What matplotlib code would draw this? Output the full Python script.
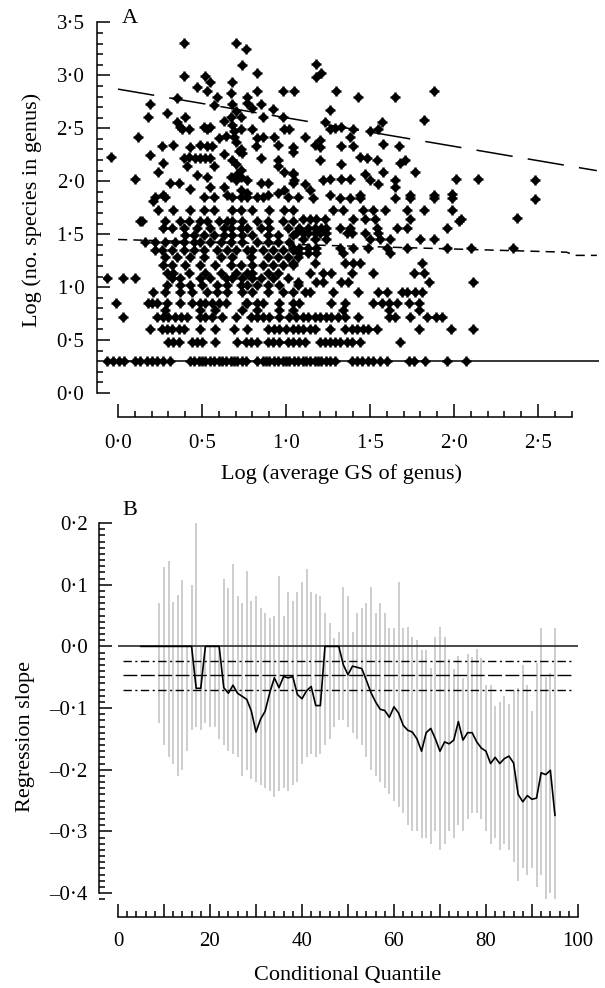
import matplotlib
matplotlib.use("Agg")
import matplotlib.pyplot as plt
from matplotlib.ticker import MultipleLocator, FixedLocator, FuncFormatter

plt.rcParams['font.family'] = ['Liberation Serif', 'DejaVu Serif']
plt.rcParams['font.size'] = 15

# ---- panel A: log genome size (x) vs log no. species (y), one genus per point
# rows of genera with few species (log10 of 2, 3, 4, 5, 6, 7, 9 species)
row_y = [0.30, 0.48, 0.60, 0.72, 0.78, 0.85, 0.95]
gs_n2 = [-0.065, -0.03, 0.005, 0.035, 0.10, 0.13, 0.17, 0.20, 0.23, 0.27, 0.31, 0.43, 0.45,
         0.48, 0.50, 0.52, 0.55, 0.57, 0.60, 0.62, 0.64, 0.67, 0.69, 0.71, 0.74, 0.76, 0.83,
         0.86, 0.88, 0.90, 0.93, 0.95, 0.98, 1.00, 1.02, 1.05, 1.07, 1.10, 1.12, 1.14, 1.17,
         1.19, 1.21, 1.24, 1.26, 1.29, 1.39, 1.42, 1.45, 1.49, 1.52, 1.56, 1.60, 1.73, 1.76,
         1.83, 1.96, 2.07]
gs_n3 = [0.30, 0.33, 0.36, 0.44, 0.47, 0.50, 0.58, 0.71, 0.76, 0.79, 0.83, 0.89, 0.92, 0.96,
         1.01, 1.04, 1.08, 1.11, 1.20, 1.23, 1.26, 1.29, 1.32, 1.36, 1.39, 1.44, 1.68]
gs_n4 = [0.19, 0.26, 0.29, 0.32, 0.36, 0.39, 0.49, 0.58, 0.69, 0.77, 0.89, 0.93, 0.96, 1.00,
         1.04, 1.07, 1.10, 1.14, 1.17, 1.26, 1.35, 1.39, 1.42, 1.46, 1.49, 1.54, 1.79, 1.98, 2.11]
gs_n5 = [0.03, 0.23, 0.27, 0.30, 0.34, 0.375, 0.41, 0.49, 0.52, 0.56, 0.62, 0.70, 0.79, 0.83,
         0.86, 0.90, 0.96, 1.02, 1.06, 1.10, 1.13, 1.17, 1.20, 1.24, 1.27, 1.31, 1.35, 1.43,
         1.61, 1.65, 1.74, 1.84, 1.89, 1.93]
gs_n6 = [0.28, 0.49, 0.58, 0.74, 0.83, 0.96, 1.04, 1.34, 1.61, 1.79]
gs_n7 = [-0.01, 0.18, 0.20, 0.23, 0.29, 0.37, 0.44, 0.49, 0.52, 0.56, 0.60, 0.64, 0.76, 0.77,
         0.83, 0.86, 0.96, 1.04, 1.08, 1.27, 1.35, 1.52, 1.57, 1.61, 1.66, 1.73, 1.79]
gs_n9 = [0.21, 0.28, 0.37, 0.44, 0.53, 0.59, 0.65, 0.74, 0.80, 0.89, 0.98, 1.04, 1.11, 1.14,
         1.28, 1.43, 1.55, 1.60, 1.69, 1.72, 1.77, 1.81]

# genera with more species: (log GS, log no. species)
upper_pts = [
    (-0.065, 1.09), (0.03, 1.09), (0.10, 1.09), (0.32, 1.09), (0.37, 1.09), (0.49, 1.09),
    (0.55, 1.09), (0.64, 1.09), (0.68, 1.09), (0.74, 1.09), (0.80, 1.09), (0.85, 1.09),
    (0.92, 1.09), (1.01, 1.09),
    (0.29, 1.02), (0.37, 1.02), (0.43, 1.02), (0.50, 1.02), (0.59, 1.02), (0.65, 1.02),
    (0.73, 1.02), (0.77, 1.02), (0.83, 1.02), (0.89, 1.02), (0.96, 1.02), (1.07, 1.02),
    (0.29, 1.13), (0.33, 1.13), (0.42, 1.13), (0.52, 1.13), (0.61, 1.13), (0.70, 1.13),
    (0.77, 1.13), (0.80, 1.13), (0.89, 1.13), (0.95, 1.13),
    (0.27, 1.21), (0.32, 1.21), (0.40, 1.21), (0.49, 1.21), (0.58, 1.21), (0.67, 1.21),
    (0.73, 1.21), (0.80, 1.21), (0.86, 1.21), (0.92, 1.21), (0.98, 1.21), (1.04, 1.21),
    (0.28, 1.28), (0.35, 1.28), (0.43, 1.28), (0.51, 1.28), (0.61, 1.28), (0.68, 1.28),
    (0.79, 1.28), (0.89, 1.28), (0.95, 1.28), (1.01, 1.28), (1.07, 1.28),
    (0.22, 1.35), (0.26, 1.35), (0.32, 1.35), (0.39, 1.35), (0.45, 1.35), (0.51, 1.35),
    (0.59, 1.35), (0.65, 1.35), (0.70, 1.35), (0.77, 1.35), (0.80, 1.35), (0.86, 1.35),
    (0.92, 1.35), (0.98, 1.35), (1.04, 1.35),
    (0.16, 1.43), (0.22, 1.43), (0.28, 1.43), (0.34, 1.43), (0.39, 1.43), (0.45, 1.43),
    (0.49, 1.43), (0.55, 1.43), (0.61, 1.43), (0.67, 1.43), (0.74, 1.43), (0.83, 1.43),
    (0.89, 1.43), (0.95, 1.43), (1.02, 1.43),
    (0.40, 1.49), (0.45, 1.49), (0.51, 1.49), (0.57, 1.49), (0.63, 1.49), (0.68, 1.49),
    (0.74, 1.49), (0.80, 1.49), (0.89, 1.49), (0.95, 1.49), (1.04, 1.49),
    (0.27, 1.56), (0.32, 1.56), (0.39, 1.56), (0.47, 1.56), (0.55, 1.56), (0.63, 1.56),
    (0.67, 1.56), (0.73, 1.56), (0.77, 1.56), (0.85, 1.56), (0.90, 1.56), (1.01, 1.56),
    (0.14, 1.62), (0.28, 1.62), (0.37, 1.62), (0.42, 1.62), (0.49, 1.62), (0.53, 1.62),
    (0.60, 1.62), (0.65, 1.62), (0.68, 1.62), (0.74, 1.62), (0.83, 1.62), (0.89, 1.62),
    (0.98, 1.62), (1.04, 1.62),
    (0.24, 1.73), (0.33, 1.73), (0.43, 1.73), (0.51, 1.73), (0.57, 1.73), (0.68, 1.73),
    (0.73, 1.73), (0.80, 1.73), (0.90, 1.73), (0.99, 1.73), (1.04, 1.73),
    (0.22, 1.85), (0.28, 1.85), (0.51, 1.85), (0.57, 1.85), (0.68, 1.85), (0.73, 1.85),
    (0.77, 1.85), (0.83, 1.85), (0.86, 1.85), (1.01, 1.85), (1.07, 1.85),
    (1.16, 1.84), (1.32, 1.84), (1.38, 1.84), (1.44, 1.84), (1.65, 1.84), (1.74, 1.84),
    (1.88, 1.84), (1.99, 1.84),
    (1.28, 1.73), (1.34, 1.73), (1.46, 1.73), (1.52, 1.73), (1.59, 1.73), (1.72, 1.73),
    (1.82, 1.73), (1.99, 1.73),
    (1.10, 1.64), (1.14, 1.64), (1.18, 1.64), (1.23, 1.64), (1.40, 1.64), (1.47, 1.64),
    (1.53, 1.64), (1.74, 1.64), (2.04, 1.64),
    (1.08, 1.56), (1.13, 1.56), (1.17, 1.56), (1.21, 1.56), (1.24, 1.56), (1.32, 1.56),
    (1.38, 1.56), (1.54, 1.56), (1.66, 1.56), (1.72, 1.56), (1.96, 1.56),
    (1.06, 1.51), (1.10, 1.51), (1.13, 1.51), (1.17, 1.51), (1.20, 1.51), (1.24, 1.51),
    (1.36, 1.51), (1.39, 1.51), (1.47, 1.51), (1.55, 1.51),
    (1.10, 1.45), (1.17, 1.45), (1.24, 1.45), (1.50, 1.45), (1.56, 1.45), (1.62, 1.45),
    (1.80, 1.45), (1.88, 1.45),
    (1.04, 1.37), (1.08, 1.37), (1.13, 1.37), (1.18, 1.37), (1.32, 1.37), (1.40, 1.37),
    (1.49, 1.37), (1.60, 1.37), (1.72, 1.37), (1.96, 1.37), (2.10, 1.37),
    (1.08, 1.32), (1.13, 1.32), (1.18, 1.32), (1.34, 1.32), (1.62, 1.32),
    (1.04, 1.23), (1.17, 1.23), (1.35, 1.23), (1.40, 1.23), (1.44, 1.23), (1.81, 1.23),
    (1.14, 1.13), (1.22, 1.13), (1.27, 1.13), (1.39, 1.13), (1.52, 1.13), (1.76, 1.13),
    (1.82, 1.13),
    (1.07, 1.05), (1.18, 1.05), (1.22, 1.05), (1.33, 1.05), (1.37, 1.05), (1.85, 1.05),
    (2.11, 1.05),
    (0.39, 3.31), (0.70, 3.31), (0.76, 3.25), (0.74, 3.10), (0.83, 3.02), (0.39, 2.99),
    (0.52, 2.99), (0.55, 2.94), (0.68, 2.94), (0.47, 2.89), (0.53, 2.85), (0.67, 2.83),
    (0.83, 2.85), (0.98, 2.85), (1.05, 2.85), (0.59, 2.80), (0.77, 2.80), (0.35, 2.79),
    (0.19, 2.73), (0.57, 2.72), (0.68, 2.73), (0.77, 2.74), (0.80, 2.69), (0.85, 2.73),
    (0.92, 2.68), (0.70, 2.66), (0.18, 2.61), (0.29, 2.64), (0.40, 2.61), (0.35, 2.56),
    (0.37, 2.51), (0.38, 2.49), (0.42, 2.49), (0.51, 2.51), (0.53, 2.49), (0.55, 2.51),
    (0.63, 2.57), (0.67, 2.61), (0.73, 2.61), (0.68, 2.53), (0.73, 2.49), (0.80, 2.49),
    (0.86, 2.61), (0.98, 2.61), (0.99, 2.49), (1.02, 2.49), (0.12, 2.42), (0.60, 2.41),
    (0.64, 2.43), (0.83, 2.41), (0.86, 2.42), (0.93, 2.42), (0.33, 2.34), (0.26, 2.33),
    (0.43, 2.32), (0.49, 2.34), (0.53, 2.33), (0.56, 2.33), (0.73, 2.30), (0.82, 2.33),
    (0.95, 2.34), (1.04, 2.32), (-0.04, 2.23), (0.19, 2.25), (0.39, 2.22), (0.42, 2.23),
    (0.46, 2.22), (0.49, 2.22), (0.52, 2.22), (0.55, 2.22), (0.63, 2.26), (0.74, 2.27),
    (0.85, 2.22), (0.95, 2.20), (0.27, 2.17), (0.41, 2.14), (0.57, 2.14), (0.70, 2.16),
    (0.73, 2.11), (0.24, 2.09), (0.95, 2.14), (0.99, 2.09), (1.04, 2.07), (0.10, 2.02),
    (0.47, 2.06), (0.53, 2.04), (0.67, 2.04), (0.70, 2.01), (0.73, 2.04), (0.77, 2.01),
    (0.89, 1.98), (0.31, 1.98), (0.36, 1.98), (0.43, 1.93), (0.55, 1.95), (0.63, 1.95),
    (0.85, 1.98), (0.95, 1.89), (0.99, 1.92), (1.04, 1.98), (0.27, 1.87), (0.65, 1.87),
    (0.77, 1.89), (0.89, 1.87), (0.69, 2.42), (0.70, 2.37), (0.72, 2.29), (0.68, 2.20),
    (0.71, 2.07), (0.73, 1.92), (0.69, 2.47), (0.21, 1.81), (0.13, 1.62),
    (1.18, 3.11), (1.21, 3.02), (1.18, 2.98), (1.30, 2.85), (1.43, 2.80), (1.65, 2.80),
    (1.88, 2.85), (1.26, 2.67), (1.82, 2.58), (1.23, 2.56), (1.57, 2.56), (1.26, 2.49),
    (1.29, 2.50), (1.33, 2.51), (1.40, 2.49), (1.50, 2.47), (1.55, 2.49), (1.11, 2.42),
    (1.38, 2.42), (1.20, 2.39), (1.20, 2.32), (1.17, 2.34), (1.33, 2.33), (1.40, 2.33),
    (1.58, 2.35), (1.67, 2.33), (1.04, 2.28), (1.20, 2.20), (1.33, 2.16), (1.44, 2.23),
    (1.48, 2.22), (1.54, 2.20), (1.68, 2.17), (1.71, 2.20), (1.04, 2.08), (1.05, 2.01),
    (1.11, 1.97), (1.14, 1.92), (1.22, 2.01), (1.26, 2.02), (1.33, 2.02), (1.38, 2.02),
    (1.47, 2.07), (1.50, 2.01), (1.55, 1.97), (1.58, 2.09), (1.65, 2.01), (1.65, 1.95),
    (1.77, 2.09), (2.01, 2.02), (2.14, 2.02), (1.26, 1.87), (1.44, 1.87), (1.74, 1.87),
    (1.88, 1.87), (1.99, 1.88), (2.48, 2.01), (2.48, 1.83), (2.375, 1.65), (2.35, 1.37),
    (2.03, 1.62),
]

# fitted quantile regression lines in panel A
q90_x = [0.0, 2.85]
q90_y = [2.87, 2.10]
q50_x = [0.0, 2.67, 2.72, 2.85]
q50_y = [1.45, 1.33, 1.30, 1.30]
q10_x = [-0.07, 2.86]
q10_y = [0.30, 0.30]

# ---- panel B: slope estimate per conditional quantile with confidence interval
quantile = list(range(5, 96))
slope = [0, 0, 0, 0, 0, 0, 0, 0, 0, 0, 0, 0,
         -0.068, -0.068, 0, 0, 0, 0, -0.067, -0.076, -0.063, -0.076, -0.081, -0.086,
         -0.105, -0.139, -0.118, -0.105, -0.075, -0.051, -0.067, -0.049, -0.051, -0.049,
         -0.078, -0.085, -0.072, -0.065, -0.096, -0.096, 0, 0, 0, 0, -0.030, -0.046,
         -0.032, -0.034, -0.036, -0.055, -0.075, -0.090, -0.102, -0.104, -0.115, -0.098,
         -0.108, -0.128, -0.136, -0.139, -0.150, -0.170, -0.140, -0.133, -0.150, -0.170,
         -0.155, -0.158, -0.152, -0.122, -0.152, -0.140, -0.140, -0.155, -0.165, -0.170,
         -0.190, -0.180, -0.190, -0.182, -0.178, -0.189, -0.240, -0.252, -0.242, -0.248,
         -0.246, -0.205, -0.208, -0.201, -0.274]
ci_quantile = list(range(9, 96))
ci_upper = [0.070, 0.128, 0.138, 0.072, 0.083, 0.108, 0.0, 0.100, 0.200, 0.0, 0.0, 0.0,
            0.0, 0.0, 0.110, 0.095, 0.133, 0.081, 0.070, 0.122, 0.073, 0.081, 0.062, 0.054,
            0.046, 0.049, 0.114, 0.049, 0.089, 0.073, 0.089, 0.105, 0.125, 0.089, 0.085,
            0.081, 0.054, 0.038, 0.013, 0.024, 0.097, 0.081, 0.024, 0.054, 0.062, 0.070,
            0.097, 0.054, 0.070, 0.054, 0.030, 0.030, 0.105, 0.030, 0.032, 0.016, 0.010,
            -0.006, -0.006, -0.035, 0.016, 0.032, 0.016, -0.020, -0.037, -0.015, -0.052,
            -0.013, -0.017, -0.005, -0.019, -0.063, -0.063, -0.096, -0.090, -0.080, -0.093,
            -0.070, -0.068, -0.031, -0.063, -0.104, -0.027, 0.030, -0.050, -0.043, 0.030]
ci_lower = [-0.124, -0.16, -0.18, -0.19, -0.21, -0.20, -0.17, -0.135, -0.13, -0.135, -0.125,
            -0.13, -0.13, -0.15, -0.16, -0.17, -0.175, -0.18, -0.21, -0.20, -0.215, -0.22,
            -0.225, -0.23, -0.235, -0.245, -0.235, -0.23, -0.235, -0.225, -0.22, -0.19,
            -0.18, -0.175, -0.18, -0.175, -0.16, -0.15, -0.13, -0.12, -0.12, -0.13, -0.14,
            -0.15, -0.16, -0.18, -0.20, -0.21, -0.22, -0.23, -0.24, -0.25, -0.26, -0.27,
            -0.29, -0.30, -0.30, -0.31, -0.31, -0.32, -0.30, -0.33, -0.32, -0.30, -0.31,
            -0.29, -0.30, -0.28, -0.27, -0.27, -0.28, -0.30, -0.32, -0.31, -0.33, -0.32,
            -0.33, -0.35, -0.38, -0.36, -0.37, -0.36, -0.39, -0.37, -0.41, -0.40, -0.41]
ref_levels = [0.0, -0.024, -0.047, -0.071]


def dot_fmt(decimals, minus='\u2013'):
    def f(v, pos):
        s = f'{v:.{decimals}f}'.replace('-', minus).replace('.', '\u00b7')
        if s in ('\u20130\u00b70', '\u20130'):
            s = s[1:]
        return s
    return FuncFormatter(f)


fig = plt.figure(figsize=(6.05, 9.88), dpi=100)

# ---------------- panel A ----------------
axA = fig.add_axes([0.1701, 0.6022, 0.8192, 0.3751])
rows = [gs_n2, gs_n3, gs_n4, gs_n5, gs_n6, gs_n7, gs_n9]
xs, ys = [], []
for lev, r in zip(row_y, rows):
    xs += r
    ys += [lev] * len(r)
xs += [p[0] for p in upper_pts]
ys += [p[1] for p in upper_pts]
axA.plot(xs, ys, 'o', color='black', ms=5.4, mew=0, zorder=3)
axA.plot(xs, ys, '+', color='black', ms=7, mew=1.8, zorder=3)

axA.plot(q90_x, q90_y, color='black', lw=1.1, dashes=(24, 10), zorder=4)
axA.plot(q50_x, q50_y, color='black', lw=1.1, dashes=(6, 4), zorder=4)
axA.plot(q10_x, q10_y, color='black', lw=1.1, zorder=4)

axA.set_xlim(-0.09, 2.86)
axA.set_ylim(0, 3.5)
for s in ('top', 'right'):
    axA.spines[s].set_visible(False)
axA.spines['left'].set_position(('outward', 4.3))
axA.spines['bottom'].set_position(('outward', 17.3))
axA.spines['left'].set_bounds(0, 3.5)
axA.spines['bottom'].set_bounds(0, 2.7)
axA.yaxis.set_major_locator(MultipleLocator(0.5))
axA.yaxis.set_minor_locator(MultipleLocator(0.1))
axA.xaxis.set_major_formatter(dot_fmt(1))
axA.yaxis.set_major_formatter(dot_fmt(1))
axA.set_xticks([0, 0.5, 1.0, 1.5, 2.0, 2.5])
axA.xaxis.set_minor_locator(FixedLocator([i / 10 for i in range(28)]))
axA.tick_params(which='both', direction='in', width=1.1)
axA.tick_params(which='major', length=9.5, labelsize=15)
axA.tick_params(axis='x', which='major', pad=12)
axA.tick_params(axis='y', which='major', pad=9)
axA.tick_params(which='minor', length=4.5)
for s in ('left', 'bottom'):
    axA.spines[s].set_linewidth(1.1)
axA.set_xlabel('Log (average GS of genus)', fontsize=16)
axA.set_ylabel('Log (no. species in genus)', fontsize=16)
axA.xaxis.set_label_coords(0.481, -0.192)
axA.yaxis.set_label_coords(-0.123, 0.494)
fig.text(0.2017, 0.9767, 'A', fontsize=16, ha='left', va='baseline')

# ---------------- panel B ----------------
axB = fig.add_axes([0.1950, 0.0899, 0.7603, 0.3838])
axB.vlines(ci_quantile, ci_lower, ci_upper, color='#cdcdcd', lw=1.4, zorder=1)
axB.plot([0, 100], [ref_levels[0]] * 2, color='#3a3a3a', lw=1.3, zorder=2)
axB.plot([1, 99], [ref_levels[1]] * 2, color='black', lw=1.0, dashes=(6, 2.5, 1.5, 2.5), zorder=2)
axB.plot([1, 99], [ref_levels[2]] * 2, color='black', lw=1.0, dashes=(10, 2.5), zorder=2)
axB.plot([1, 99], [ref_levels[3]] * 2, color='black', lw=1.0, dashes=(6, 2.5, 1.5, 2.5), zorder=2)
axB.plot(quantile, slope, color='black', lw=1.2, zorder=3)

axB.set_xlim(0, 100)
axB.set_ylim(-0.41, 0.205)
for s in ('top', 'right'):
    axB.spines[s].set_visible(False)
axB.spines['left'].set_position(('outward', 13.7))
axB.spines['bottom'].set_position(('outward', 12.8))
axB.spines['left'].set_bounds(-0.4, 0.2)
axB.spines['bottom'].set_bounds(0, 100)
for s in ('left', 'bottom'):
    axB.spines[s].set_linewidth(1.1)
axB.xaxis.set_major_locator(MultipleLocator(10))
axB.xaxis.set_minor_locator(MultipleLocator(2))
axB.xaxis.set_major_formatter(FuncFormatter(lambda v, p: f'{v:.0f}' if round(v) % 20 == 0 else ''))
axB.yaxis.set_major_locator(MultipleLocator(0.1))
axB.yaxis.set_minor_locator(MultipleLocator(0.01))
axB.yaxis.set_major_formatter(dot_fmt(1))
axB.tick_params(which='both', direction='in', width=1.1)
axB.tick_params(which='major', length=9.5, labelsize=15)
axB.tick_params(axis='x', which='major', pad=11)
axB.tick_params(axis='y', which='major', pad=8)
axB.tick_params(which='minor', length=4.5)
axB.set_xlabel('Conditional Quantile', fontsize=16)
axB.set_ylabel('Regression slope', fontsize=16)
axB.xaxis.set_label_coords(0.499, -0.176)
axB.yaxis.set_label_coords(-0.180, 0.428)
fig.text(0.2017, 0.4787, 'B', fontsize=16, ha='left', va='baseline')

fig.savefig('out.png', dpi=100)
